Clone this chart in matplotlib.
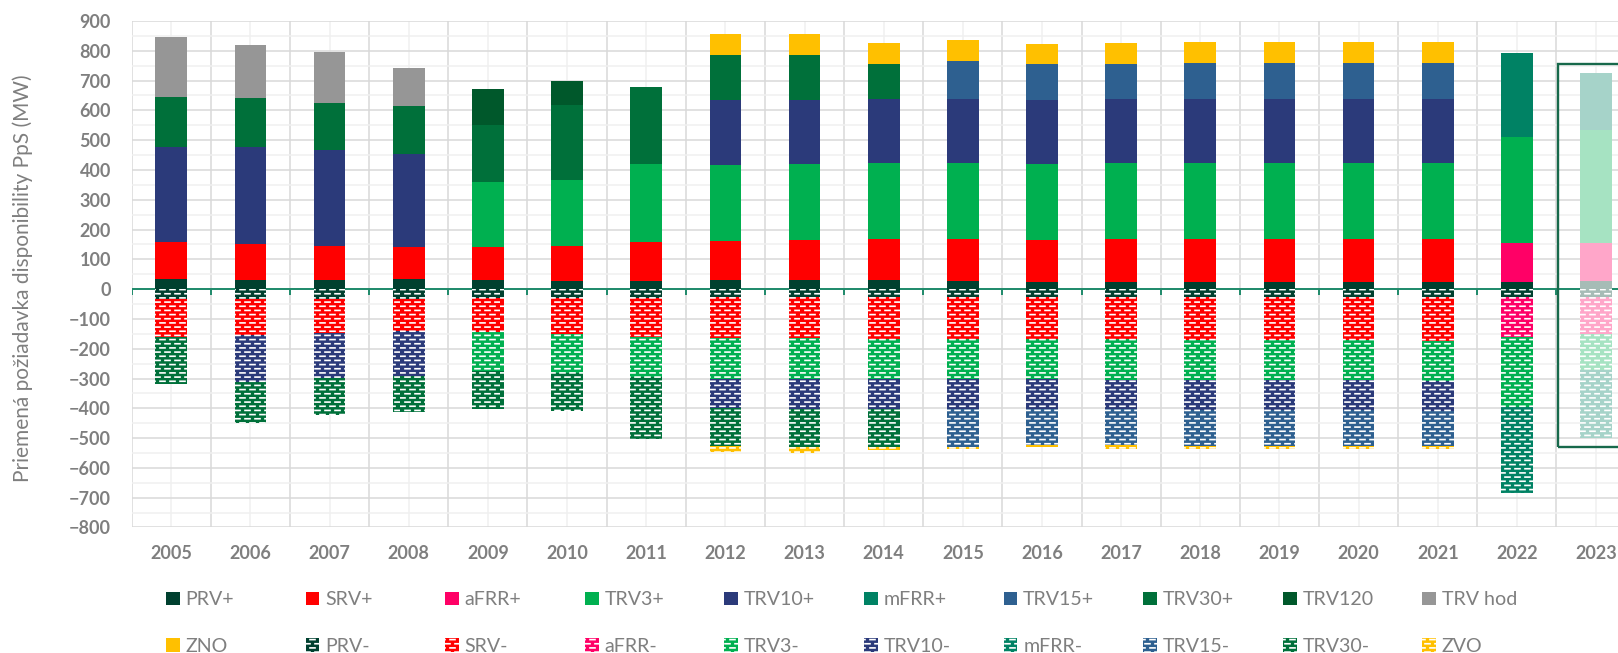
import numpy as np
import matplotlib
matplotlib.use('Agg')
import matplotlib.pyplot as plt
import matplotlib.hatch as mhatch
from matplotlib.path import Path
from matplotlib.patches import Patch, Rectangle
from matplotlib.colors import to_rgb

years = [str(y) for y in range(2005, 2024)]

# kladne segmenty (MW), poradie skladania zdola nahor
prv_p = [33, 31, 31, 33, 29, 27, 27, 29, 29, 29, 28, 24, 24, 24, 24, 24, 23, 25, 27]
srv_p = [124, 120, 115, 110, 111, 119, 130, 132, 137, 138, 139, 142, 143, 144, 144, 144, 145, 0, 0]
afrr_p = [0] * 17 + [131, 129]
trv3_p = [0, 0, 0, 0, 221, 221, 262, 257, 254, 256, 256, 255, 256, 256, 256, 256, 256, 356, 378]
trv10_p = [321, 325, 320, 310, 0, 0, 0, 218, 216, 215, 215, 213, 214, 214, 214, 214, 215, 0, 0]
mfrr_p = [0] * 17 + [281, 190]
trv15_p = [0] * 10 + [128, 120, 120, 120, 120, 120, 120, 0, 0]
trv30_p = [168, 167, 157, 160, 191, 250, 258, 150, 150, 118] + [0] * 9
trv120_p = [0, 0, 0, 0, 118, 81] + [0] * 13
trvhod_p = [201, 177, 173, 129] + [0] * 15
zno_p = [0] * 7 + [70, 70, 70, 70, 70, 70, 72, 72, 72, 71, 0, 0]

# zaporne segmenty (MW), poradie od nuly nadol
prv_n = [32, 32, 32, 32, 31, 29, 29, 26, 26, 26, 26, 28, 28, 28, 28, 28, 26, 26, 26]
srv_n = [127, 121, 114, 110, 114, 120, 131, 137, 139, 142, 142, 140, 141, 142, 142, 142, 147, 0, 0]
afrr_n = [0] * 17 + [133, 123]
trv3_n = [0, 0, 0, 0, 130, 132, 134, 137, 136, 133, 133, 135, 135, 136, 136, 136, 136, 236, 121]
trv10_n = [0, 159, 151, 149, 0, 0, 0, 100, 101, 101, 101, 100, 99, 98, 98, 98, 99, 0, 0]
mfrr_n = [0] * 17 + [290, 231]
trv15_n = [0] * 10 + [128, 119, 120, 121, 121, 121, 120, 0, 0]
trv30_n = [159, 138, 124, 122, 128, 128, 210, 126, 128, 128] + [0] * 9
zvo_n = [0] * 7 + [22, 20, 11, 8, 9, 12, 11, 11, 11, 9, 0, 0]

C_PRV = '#00402F'
C_SRV = '#FF0000'
C_AFRR = '#FF0066'
C_TRV3 = '#00B050'
C_TRV10 = '#2B3A7A'
C_MFRR = '#008264'
C_TRV15 = '#2E6090'
C_TRV30 = '#00703A'
C_TRV120 = '#00582B'
C_HOD = '#969696'
C_ZNO = '#FFC000'
GRAY = '#7F7F7F'


# vzor "biele carky" ako v Exceli
class BrickDashes(mhatch.HatchPatternBase):
    def __init__(self, hatch, density):
        self.rows = hatch.count('-') * int(density)
        self.cols = self.rows * 5 // 12
        self.num_vertices = self.rows * self.cols * 2

    def set_vertices_and_codes(self, vertices, codes):
        i = 0
        for r in range(self.rows):
            y = (r + 0.5) / self.rows
            off = (r % 2) * 0.5 / self.cols
            for c in range(self.cols):
                x0 = c / self.cols + off
                vertices[i] = (x0, y)
                vertices[i + 1] = (x0 + 0.5 / self.cols, y)
                codes[i] = Path.MOVETO
                codes[i + 1] = Path.LINETO
                i += 2


mhatch._hatch_types = [BrickDashes]
HATCH = '----'

plt.rcParams['font.family'] = ['Lato', 'DejaVu Sans']
plt.rcParams['hatch.linewidth'] = 1.2


def fade(c, a=0.35):
    r = np.array(to_rgb(c))
    return tuple(1 - a * (1 - r))


pos_series = [('PRV+', prv_p, C_PRV), ('SRV+', srv_p, C_SRV), ('aFRR+', afrr_p, C_AFRR),
              ('TRV3+', trv3_p, C_TRV3), ('TRV10+', trv10_p, C_TRV10), ('mFRR+', mfrr_p, C_MFRR),
              ('TRV15+', trv15_p, C_TRV15), ('TRV30+', trv30_p, C_TRV30), ('TRV120', trv120_p, C_TRV120),
              ('TRV hod', trvhod_p, C_HOD), ('ZNO', zno_p, C_ZNO)]
neg_series = [('PRV-', prv_n, C_PRV), ('SRV-', srv_n, C_SRV), ('aFRR-', afrr_n, C_AFRR),
              ('TRV3-', trv3_n, C_TRV3), ('TRV10-', trv10_n, C_TRV10), ('mFRR-', mfrr_n, C_MFRR),
              ('TRV15-', trv15_n, C_TRV15), ('TRV30-', trv30_n, C_TRV30), ('ZVO', zvo_n, C_ZNO)]

n = len(years)
x = np.arange(n)
W = 0.4

fig = plt.figure(figsize=(16.18, 6.53), dpi=100)
ax = fig.add_axes([0.0814, 0.1922, 0.9295, 0.7757])

handles = []
bottom = np.zeros(n)
for name, vals, col in pos_series:
    cols = [col] * (n - 1) + [fade(col)]
    ax.bar(x, vals, W, bottom=bottom, color=cols, linewidth=0, zorder=3)
    bottom += np.array(vals)
    handles.append(Patch(facecolor=col, linewidth=0, label=name))
pos_top = bottom.copy()

bottom = np.zeros(n)
for name, vals, col in neg_series:
    cols = [col] * (n - 1) + [fade(col)]
    v = np.array(vals)
    ax.bar(x, -v, W, bottom=-bottom, color=cols, edgecolor='white', linewidth=0,
           hatch=HATCH, zorder=3)
    bottom += v
    handles.append(Patch(facecolor=col, edgecolor='white', linewidth=0, hatch=HATCH, label=name))
neg_bot = bottom.copy()

# nulova os s ciarkami
ax.axhline(0, color='#1E8A6A', lw=1.4, zorder=2)
ax.vlines(np.arange(-0.5, n), -19, 0, color='#1E8A6A', lw=1.4, zorder=2)

# ramcek okolo 2023
ax.add_patch(Rectangle((x[-1] - 0.48, -neg_bot[-1] - 28), 1.5, pos_top[-1] + neg_bot[-1] + 60,
                       fill=False, edgecolor='#17694B', lw=1.7, zorder=4, clip_on=False))

ax.set_xlim(-0.5, n - 0.5)
ax.set_ylim(-800, 900)
ax.set_yticks(np.arange(-800, 901, 100))
ax.set_yticks(np.arange(-750, 900, 100), minor=True)
ax.set_xticks(x)
ax.set_xticklabels(years)
ax.set_xticks(np.arange(-0.5, n), minor=True)
ax.tick_params(axis='both', which='both', length=0)
ax.tick_params(axis='y', pad=15, labelsize=13, labelcolor=GRAY)
ax.tick_params(axis='x', pad=12.5, labelsize=13, labelcolor=GRAY)
for lab in ax.get_xticklabels() + ax.get_yticklabels():
    lab.set_fontweight('bold')

ax.grid(axis='y', which='major', color='#D9D9D9', lw=1.1, zorder=0)
ax.grid(axis='y', which='minor', color='#F0F0F0', lw=1.1, zorder=0)
ax.grid(axis='x', which='minor', color='#D9D9D9', lw=1.1, zorder=0)
ax.grid(axis='x', which='major', color='#F0F0F0', lw=1.1, zorder=0)
ax.set_axisbelow(True)
for s in ax.spines.values():
    s.set_visible(False)

fig.text(23 / 1618, 1 - 278 / 653, 'Priemená požiadavka disponibility PpS (MW)',
         rotation=90, ha='center', va='center', fontsize=15, color=GRAY)

# legenda: 10 stlpcov po dvoch polozkach
top_row = handles[:10]
bot_row = handles[10:]
for i in range(10):
    x0 = (166 + i * 139.6) / 1618
    leg = fig.legend(handles=[top_row[i], bot_row[i]], loc='center left',
                     bbox_to_anchor=(x0, 1 - 623 / 653), frameon=False,
                     borderpad=0, borderaxespad=0, handlelength=0.7, handleheight=0.7,
                     handletextpad=0.3, labelspacing=1.5, fontsize=14.1)
    for t in leg.get_texts():
        t.set_color(GRAY)

fig.savefig('out.png', dpi=100)
